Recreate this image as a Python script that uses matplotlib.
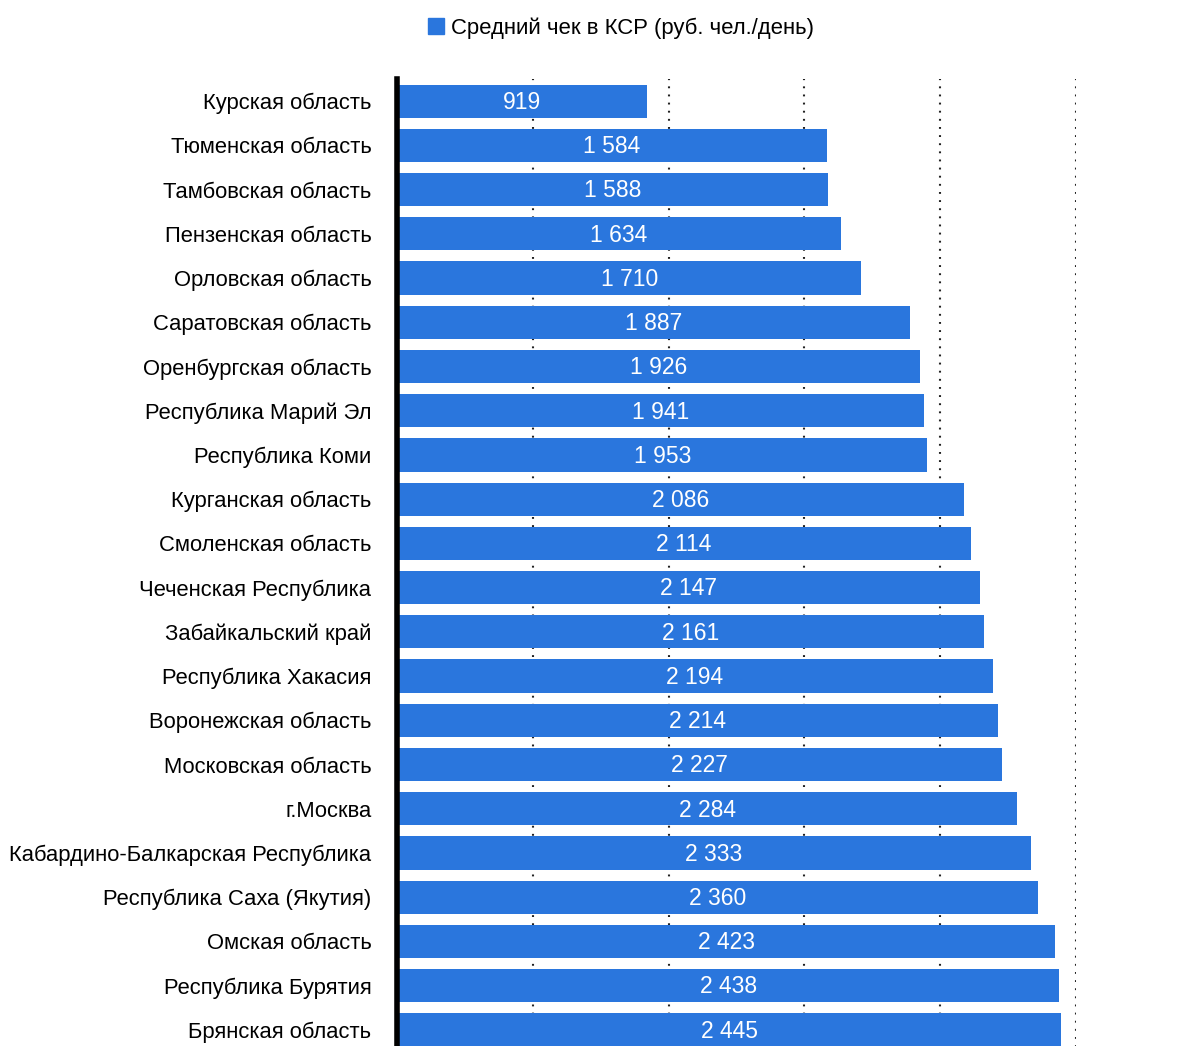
import matplotlib.pyplot as plt
from matplotlib import font_manager
from matplotlib.patches import Patch

names = [f.name for f in font_manager.fontManager.ttflist]
narrow = 'Liberation Sans Narrow' if 'Liberation Sans Narrow' in names else 'Liberation Sans'
plt.rcParams['font.family'] = [narrow, 'DejaVu Sans']

regions = [
    'Курская область', 'Тюменская область', 'Тамбовская область',
    'Пензенская область', 'Орловская область', 'Саратовская область',
    'Оренбургская область', 'Республика Марий Эл', 'Республика Коми',
    'Курганская область', 'Смоленская область', 'Чеченская Республика',
    'Забайкальский край', 'Республика Хакасия', 'Воронежская область',
    'Московская область', 'г.Москва', 'Кабардино-Балкарская Республика',
    'Республика Саха (Якутия)', 'Омская область', 'Республика Бурятия',
    'Брянская область',
]
avg_check = [919, 1584, 1588, 1634, 1710, 1887, 1926, 1941, 1953, 2086, 2114,
             2147, 2161, 2194, 2214, 2227, 2284, 2333, 2360, 2423, 2438, 2445]

blue = '#2A76DD'

fig = plt.figure(figsize=(11.98, 10.46), dpi=100)
# нижний край осей чуть ниже картинки — последняя полоса обрезана
ax = fig.add_axes([397 / 1198, -6 / 1046, (1076 - 397) / 1198, (1052 - 79) / 1046])

y = list(range(len(regions)))
bars = ax.barh(y, avg_check, height=0.75, color=blue, zorder=2)
for b, v in zip(bars, avg_check):
    txt = f'{v:,}'.replace(',', ' ')
    ax.text(b.get_width() / 2, b.get_y() + b.get_height() / 2 + 0.03, txt,
            ha='center', va='center', color='white', fontsize=16.5, zorder=3)

ax.set_yticks(y)
ax.set_yticklabels(regions, fontsize=15.8)
ax.set_ylim(len(regions) - 0.5, -0.5)
ax.set_xlim(0, 2500)
ax.set_xticks([500, 1000, 1500, 2000, 2500])
ax.tick_params(axis='x', bottom=False, labelbottom=False)
ax.tick_params(axis='y', length=0, pad=18.5)
ax.xaxis.grid(True, color='#222222', linestyle=(0, (0.9, 3)), linewidth=1.5, zorder=0)

for s in ['top', 'right', 'bottom']:
    ax.spines[s].set_visible(False)
ax.spines['left'].set_linewidth(4)
ax.spines['left'].set_color('black')
ax.spines['left'].set_zorder(4)

fig.legend(handles=[Patch(color=blue, label='Средний чек в КСР (руб. чел./день)')],
           loc='center', bbox_to_anchor=(621 / 1198, 1 - 28 / 1046), frameon=False,
           fontsize=15.9, handlelength=0.7, handleheight=0.7, handletextpad=0.3)

fig.savefig('out.png', dpi=100)
